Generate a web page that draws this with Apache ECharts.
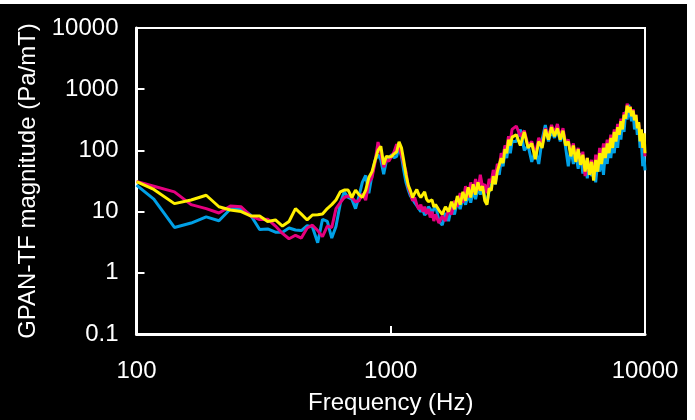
<!DOCTYPE html>
<html>
<head>
<meta charset="utf-8">
<script src="https://cdn.jsdelivr.net/npm/echarts@6/dist/echarts.min.js"></script>
<style>
html,body{margin:0;padding:0;background:#fff;width:695px;height:420px;overflow:hidden;}
#c{position:absolute;left:0;top:4px;width:687px;height:416px;background:#000;}
</style>
</head>
<body>
<div id="c"></div>
<script>
// Frequencies (Hz)
const freqLow = [100,117,141,164,188,211,234,258,281,305,328,352,375,398,422,445,469,492,516,539,563,586,609,633,656,680,703,727,750,773,797,820,844,867,891,914,938,961,984,1008,1031,1055,1078,1102,1125,1148,1172,1195,1219,1242,1266,1289,1313,1336,1359,1383,1406,1430,1453,1477,1500];
const freqMid = [1547,1594,1641,1688,1734,1781,1828,1875,1922,1969,2016,2063,2109,2156,2203,2250,2297,2344,2391,2438,2484,2531,2578,2625,2672,2719,2766,2813,2859,2906,2953,3000];
const freqHigh = [3117,3234,3352,3469,3586,3703,3820,3938,4055,4172,4289,4406,4523,4641,4758,4875,4992,5109,5227,5344,5461,5578,5695,5813,5930,6047,6164,6281,6398,6516,6633,6750,6867,6984,7102,7219,7336,7453,7570,7688,7805,7922,8039,8156,8273,8391,8508,8625,8742,8859,8977,9094,9211,9328,9445,9563,9680,9797,9914,10000];

// Cyan series (Pa/mT)
const cyanLow = [27,16,5.5,6.5,8.2,7.1,11,11.2,8.8,5.1,5.2,4.6,4.6,5.4,5.0,4.9,5.9,5.6,3.1,7.5,6.9,3.7,5.7,13.5,21,17,16,11.2,17.8,30,39,20,40,68,85,70,41,68,76,85,76,80,117,80,47,30,22.5,18,16,14,12.5,12,10,11,8.8,9.5,12,11,9.3,10,13];
const cyanMid = [7,6,9.5,7,12,9,15,11,17,13,19,14,22,16,25,19,27,17,14,22,26,36,28,48,40,70,55,95,75,120,90,140];
const cyanHigh = [140,220,100,120,65,100,60,150,260,140,210,160,230,140,200,110,55,110,60,85,50,90,42,70,35,60,38,55,30,65,45,80,40,95,60,120,75,140,90,170,110,230,150,300,200,430,320,560,380,300,420,220,330,180,260,110,140,55,80,47];

// Magenta series (Pa/mT)
const magentaLow = [31,26,21,13,11.2,9.5,12.3,12,8.5,7.4,7.5,5.8,4.4,3.6,4.1,3.7,5.4,6.0,4.9,3.9,5.8,5.5,11.2,14,17,18,17,14.5,15,19.5,15.4,30,36,63,137,90,53,70,67,80,95,126,110,85,60,45,25,20,15,17,13,11,13,10,12,9.2,11,8,10,7,9];
const magentaMid = [6.5,8.5,7,11,9,15,12,20,14,26,17,30,20,34,22,40,25,28,20,34,30,48,36,60,55,90,80,120,110,170,140,220];
const magentaHigh = [250,170,210,120,140,85,160,120,230,170,260,190,270,160,230,130,150,90,130,70,110,60,95,38,75,45,70,35,85,55,110,70,130,90,150,110,180,130,220,160,270,200,330,250,420,350,580,450,520,380,470,330,380,250,280,170,200,110,130,80];

// Yellow series (Pa/mT)
const yellowLow = [31,23,13.5,15.5,18.5,12,10.6,10,8.5,8.5,6.9,7.3,5.8,6.9,11.2,9.1,7.3,8.8,8.9,9.1,11.2,13,15.5,21,22.5,22.5,17,22.5,19,17,22.5,36,45,68,100,117,59,80,78,80,88,95,138,110,68,40,27,22,17,20,23,19,17,19,21,16,14.5,15,15.5,12,13];
const yellowMid = [10.6,9,12,10,14.5,11,18,13,21,15,25,17,28,19,30,22,26,15,13,24,22,38,28,45,42,75,62,105,90,150,120,165];
const yellowHigh = [180,120,200,110,130,72,140,110,220,150,240,170,230,150,210,120,140,80,120,65,105,58,85,45,75,40,65,32,70,45,90,60,110,75,130,90,160,110,200,140,240,180,300,220,380,330,540,420,510,360,450,310,380,230,290,140,220,110,190,90];

// Tick labels
const xTicks = [100, 1000, 10000];
const yTicks = [0.1, 1, 10, 100, 1000, 10000];

const freq = freqLow.concat(freqMid, freqHigh);
const pair = vals => freq.map((f, i) => [f, vals[i]]);
const cyan = pair(cyanLow.concat(cyanMid, cyanHigh));
const magenta = pair(magentaLow.concat(magentaMid, magentaHigh));
const yellow = pair(yellowLow.concat(yellowMid, yellowHigh));

const FONT = '"Liberation Sans", Arial, sans-serif';
const chart = echarts.init(document.getElementById('c'));
chart.setOption({
  backgroundColor: '#000',
  animation: false,
  grid: {left: 136.5, right: 42, top: 24, bottom: 80.5, show: true, borderColor: '#fff', borderWidth: 2, containLabel: false},
  xAxis: {
    type: 'log', logBase: 10, min: xTicks[0], max: xTicks[xTicks.length - 1],
    axisLine: {onZero: false, lineStyle: {color: '#fff', width: 3}},
    axisTick: {inside: true, length: 8, lineStyle: {color: '#fff', width: 2}},
    splitLine: {show: false},
    axisLabel: {color: '#fff', fontSize: 24, fontFamily: FONT, margin: 25, formatter: v => String(v)},
    name: 'Frequency (Hz)', nameLocation: 'middle', nameGap: 57,
    nameTextStyle: {color: '#fff', fontSize: 24, fontFamily: FONT}
  },
  yAxis: {
    type: 'log', logBase: 10, min: yTicks[0], max: yTicks[yTicks.length - 1],
    axisLine: {onZero: false, lineStyle: {color: '#fff', width: 3}},
    axisTick: {inside: true, length: 8, lineStyle: {color: '#fff', width: 2}},
    splitLine: {show: false},
    axisLabel: {color: '#fff', fontSize: 24, fontFamily: FONT, margin: 18, formatter: v => String(+v.toPrecision(6))},
    name: 'GPAN-TF magnitude (Pa/mT)', nameLocation: 'middle', nameRotate: 90, nameGap: 96,
    nameTextStyle: {color: '#fff', fontSize: 24, fontFamily: FONT}
  },
  series: [
    {type: 'line', data: cyan, showSymbol: false, lineStyle: {color: '#00a0e6', width: 3}, itemStyle: {color: '#00a0e6'}},
    {type: 'line', data: magenta, showSymbol: false, lineStyle: {color: '#e5007f', width: 3}, itemStyle: {color: '#e5007f'}},
    {type: 'line', data: yellow, showSymbol: false, lineStyle: {color: '#fff000', width: 3}, itemStyle: {color: '#fff000'}}
  ]
});
</script>
</body>
</html>
